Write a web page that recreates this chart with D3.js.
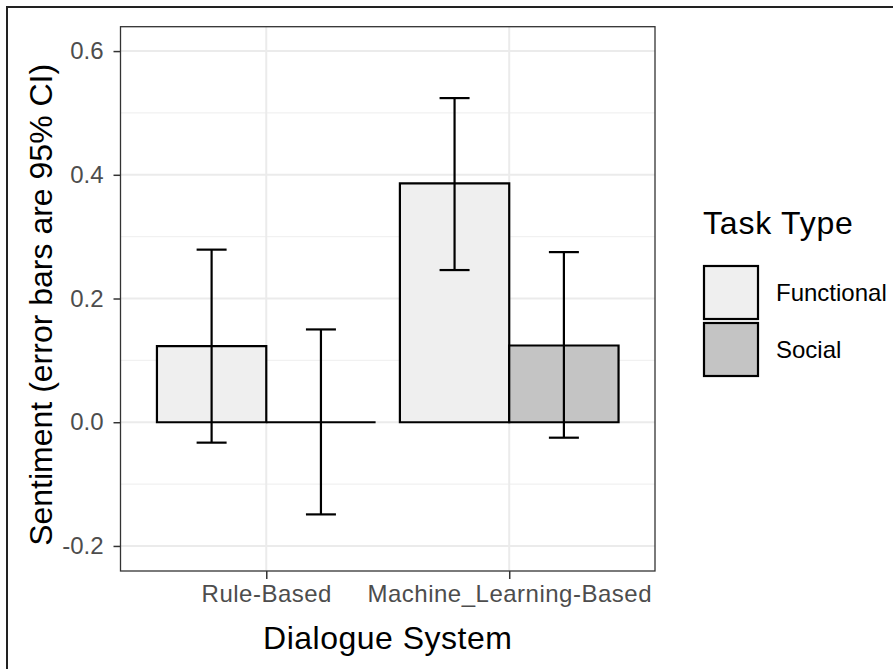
<!DOCTYPE html>
<html><head><meta charset="utf-8">
<script src="https://cdn.jsdelivr.net/npm/d3@7"></script>
<style>body{margin:0;background:#fff}svg{display:block;font-family:"Liberation Sans",Arial,sans-serif}</style>
</head><body><svg id="c" width="893" height="669"></svg>
<script>
const systems = ["Rule-Based", "Machine_Learning-Based"];
const taskTypes = ["Functional", "Social"];
const means = [[0.123, 0.0], [0.386, 0.124]];
const ciLow = [[-0.033, -0.149], [0.246, -0.025]];
const ciHigh = [[0.279, 0.150], [0.524, 0.275]];
const fills = ["#EFEFEF", "#C4C4C4"];
const yTicks = [-0.2, 0.0, 0.2, 0.4, 0.6];
const yMinor = [-0.1, 0.1, 0.3, 0.5];

const svg = d3.select("#c");
const L = 120.5, R = 655, T = 26.7, B = 571;
const FF = "Liberation Sans, Arial, sans-serif";

// outer frame
svg.append("rect").attr("x", 7).attr("y", 7).attr("width", 900).attr("height", 700)
  .attr("fill", "none").attr("stroke", "#222").attr("stroke-width", 2);

const y = d3.scaleLinear().domain([-0.2405, 0.6394]).range([B, T]);
const xc = d3.scaleLinear().domain([0.4, 2.6]).range([L, R]);

const g = svg.append("g");
// grid
yMinor.forEach(v => g.append("line").attr("x1", L).attr("x2", R).attr("y1", y(v)).attr("y2", y(v)).attr("stroke", "#F1F1F1").attr("stroke-width", 1.2));
yTicks.forEach(v => g.append("line").attr("x1", L).attr("x2", R).attr("y1", y(v)).attr("y2", y(v)).attr("stroke", "#EBEBEB").attr("stroke-width", 2));
systems.forEach((s, i) => g.append("line").attr("x1", xc(i + 1)).attr("x2", xc(i + 1)).attr("y1", T).attr("y2", B).attr("stroke", "#EBEBEB").attr("stroke-width", 2));

// bars (paths so a zero-height bar still draws its outline)
const bw = 0.45;
systems.forEach((s, i) => {
  taskTypes.forEach((t, j) => {
    const x0 = xc(i + 1 - 0.45 + j * bw), x1 = xc(i + 1 - 0.45 + (j + 1) * bw);
    const y0 = y(0), y1 = y(means[i][j]);
    g.append("path").attr("d", `M${x0},${y0}V${y1}H${x1}V${y0}Z`)
      .attr("fill", fills[j]).attr("stroke", "#000").attr("stroke-width", 2.2);
  });
});
// error bars
systems.forEach((s, i) => {
  taskTypes.forEach((t, j) => {
    const cx = xc(i + 1 - 0.45 + j * bw + bw / 2);
    const hw = 15;
    const lo = y(ciLow[i][j]), hi = y(ciHigh[i][j]);
    g.append("line").attr("x1", cx).attr("x2", cx).attr("y1", hi).attr("y2", lo).attr("stroke", "#000").attr("stroke-width", 2.2);
    [lo, hi].forEach(yy => g.append("line").attr("x1", cx - hw).attr("x2", cx + hw).attr("y1", yy).attr("y2", yy).attr("stroke", "#000").attr("stroke-width", 2.2));
  });
});
// panel border
svg.append("rect").attr("x", L).attr("y", T).attr("width", R - L).attr("height", B - T)
  .attr("fill", "none").attr("stroke", "#333").attr("stroke-width", 1.3);

// y axis
const yAxis = d3.axisLeft(y).tickValues(yTicks).tickSize(7).tickPadding(10);
const ya = svg.append("g").attr("transform", `translate(${L},0)`).call(yAxis);
ya.select(".domain").remove();
ya.attr("font-size", null).attr("font-family", null);
ya.selectAll(".tick line").attr("stroke", "#333").attr("stroke-width", 1.5);
ya.selectAll(".tick text").attr("fill", "#4D4D4D").attr("font-size", 24).attr("font-family", FF)
  .text(d => d < 0 ? "-" + Math.abs(d).toFixed(1) : d.toFixed(1));

// x axis
const xb = d3.scaleOrdinal().domain(systems).range(systems.map((s, i) => xc(i + 1)));
const xAxis = d3.axisBottom(xb).tickSize(8).tickPadding(6);
const xa = svg.append("g").attr("transform", `translate(0,${B})`).call(xAxis);
xa.select(".domain").remove();
xa.attr("font-size", null).attr("font-family", null);
xa.selectAll(".tick line").attr("stroke", "#333").attr("stroke-width", 1.5);
xa.selectAll(".tick text").attr("fill", "#4D4D4D").attr("font-size", 24).attr("letter-spacing", 0.5).attr("font-family", FF);

// titles
svg.append("text").attr("x", (L + R) / 2).attr("y", 649).attr("text-anchor", "middle")
  .attr("font-size", 32).attr("letter-spacing", 0.5).attr("fill", "#000").text("Dialogue System");
svg.append("text").attr("transform", `translate(52,${(T + B) / 2 + 6}) rotate(-90)`).attr("text-anchor", "middle")
  .attr("font-size", 32).attr("fill", "#000").text("Sentiment (error bars are 95% CI)");

// legend
const lg = svg.append("g");
lg.append("text").attr("x", 703).attr("y", 234).attr("font-size", 32).attr("letter-spacing", 0.8).attr("fill", "#000").text("Task Type");
taskTypes.forEach((t, j) => {
  const ky = 266 + j * 57;
  lg.append("rect").attr("x", 704).attr("y", ky).attr("width", 54).attr("height", 53)
    .attr("fill", fills[j]).attr("stroke", "#000").attr("stroke-width", 2.2);
  lg.append("text").attr("x", 776).attr("y", ky + 27).attr("dy", "0.35em").attr("font-size", 24).attr("fill", "#000").text(t);
});
</script></body></html>
